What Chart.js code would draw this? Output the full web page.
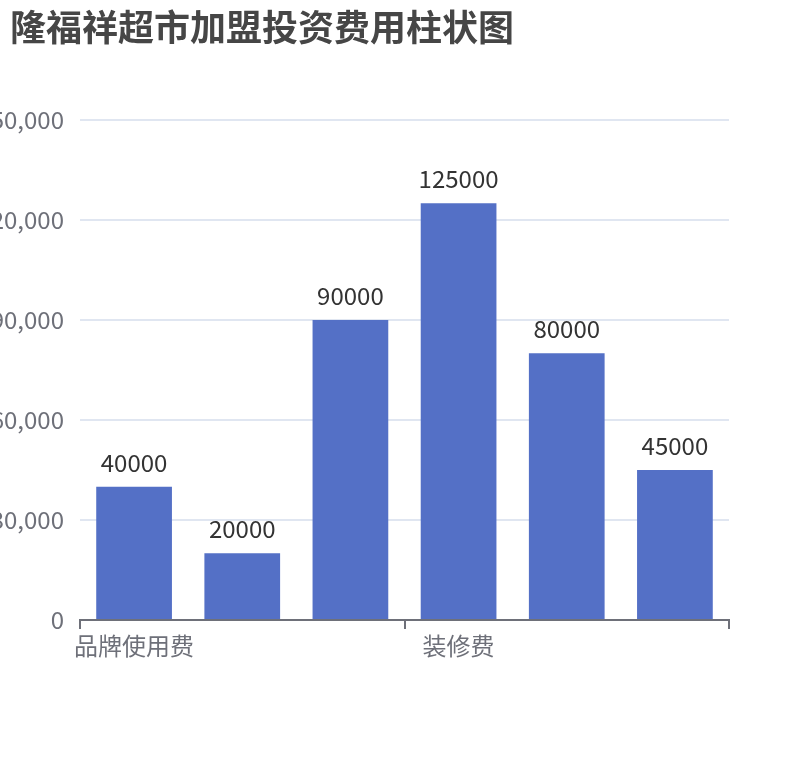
<!DOCTYPE html>
<html><head><meta charset="utf-8">
<script src="https://cdn.jsdelivr.net/npm/chart.js@4"></script>
<style>html,body{margin:0;padding:0;background:#fff}#wrap{width:810px;height:760px;position:relative}</style>
</head><body><div id="wrap"><canvas id="c"></canvas></div>
<script>
const titleText = '隆福祥超市加盟投资费用柱状图';
const categories = ['品牌使用费','加盟保证金','设备费','装修费','首批货款','流动资金'];
const values = [40000, 20000, 90000, 125000, 80000, 45000];
const yTicks = [0, 30000, 60000, 90000, 120000, 150000];
const shownLabelIndexes = [0, 3];
const FONT = '"Noto Sans CJK SC","Noto Sans",sans-serif';

const titlePlugin = {
  id: 'titleText',
  afterDraw(chart) {
    const ctx = chart.ctx;
    ctx.save();
    ctx.font = 'bold 36px ' + FONT;
    ctx.fillStyle = '#464646';
    ctx.textBaseline = 'middle';
    ctx.textAlign = 'left';
    ctx.fillText(titleText, 10, 27);
    ctx.restore();
  }
};
const valueLabels = {
  id: 'valueLabels',
  afterDatasetsDraw(chart) {
    const ctx = chart.ctx;
    const meta = chart.getDatasetMeta(0);
    ctx.save();
    ctx.font = '24px ' + FONT;
    ctx.fillStyle = '#333333';
    ctx.textAlign = 'center';
    ctx.textBaseline = 'alphabetic';
    meta.data.forEach((bar, i) => {
      ctx.fillText(String(values[i]), bar.x, bar.y - 15);
    });
    ctx.restore();
  }
};

new Chart(document.getElementById('c'), {
  type: 'bar',
  data: {
    labels: categories,
    datasets: [{
      data: values,
      backgroundColor: '#5470C6',
      categoryPercentage: 1,
      barPercentage: 0.7,
      borderWidth: 0
    }]
  },
  options: {
    responsive: true,
    maintainAspectRatio: false,
    animation: false,
    layout: { padding: { left: 0, right: 81, top: 120, bottom: 0 } },
    plugins: { legend: { display: false }, tooltip: { enabled: false }, title: { display: false } },
    scales: {
      x: {
        grid: {
          display: true, drawOnChartArea: false, drawTicks: true, tickLength: 9, offset: true, lineWidth: 2,
          color: (c) => (c.index === undefined || c.index === 0 || c.index === 3) ? '#6E7079' : 'rgba(0,0,0,0)'
        },
        border: { display: true, color: '#6E7079', width: 2 },
        ticks: {
          autoSkip: false, maxRotation: 0, minRotation: 0,
          font: { size: 24, family: FONT }, color: '#6E7079', padding: 2,
          callback: (v, i) => shownLabelIndexes.includes(i) ? categories[i] : ''
        },
        afterFit(s) { s.height = 140; }
      },
      y: {
        min: 0, max: 150000,
        afterBuildTicks(s) { s.ticks = yTicks.map(v => ({ value: v })); },
        ticks: {
          font: { size: 24, family: FONT }, color: '#6E7079', padding: 16,
          callback: (v) => Number(v).toLocaleString('en-US')
        },
        grid: { color: '#E0E6F1', lineWidth: 2, drawTicks: false },
        border: { display: false },
        afterFit(s) { s.width = 80; }
      }
    }
  },
  plugins: [titlePlugin, valueLabels]
});
</script>
</body></html>
